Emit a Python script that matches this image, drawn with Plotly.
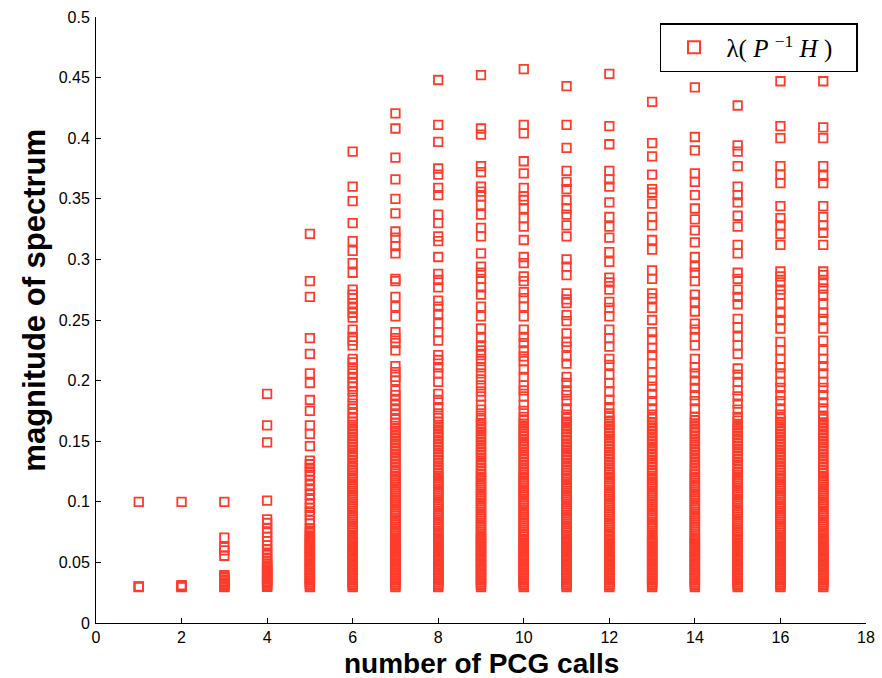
import plotly.graph_objects as go

# x positions (number of PCG calls)
calls = list(range(1, 18))

# low dense eigenvalue cluster shared by columns 5..17
cluster_low = [0.0297, 0.0309, 0.0322, 0.0336, 0.0349, 0.0364, 0.0377, 0.0391, 0.0404, 0.0418,
               0.0433, 0.0445, 0.0459, 0.0474, 0.0486, 0.0501, 0.0514, 0.0528, 0.0543, 0.0555,
               0.0569, 0.0584, 0.0596, 0.0610, 0.0625, 0.0637, 0.0652, 0.0664, 0.0679, 0.0691]

col1 = [0.100, 0.0303, 0.0300, 0.0297]
col2 = [0.100, 0.0312, 0.0306, 0.0300, 0.0297]
col3 = [0.100, 0.0705, 0.0625, 0.0600, 0.0555, 0.0395, 0.0385, 0.0372, 0.0358, 0.0345,
        0.0333, 0.0322, 0.0312, 0.0305, 0.0300, 0.0297]
col4 = [0.189, 0.163, 0.149, 0.101, 0.0855, 0.0825, 0.078, 0.0745, 0.071, 0.0675, 0.064,
        0.061, 0.058, 0.056, 0.053, 0.051, 0.049, 0.0475, 0.0463, 0.0452, 0.0440, 0.0428,
        0.0417, 0.0405, 0.0394, 0.0382, 0.0371, 0.0360, 0.0348, 0.0337, 0.0326, 0.0315,
        0.0306, 0.0298]
col5 = [0.321, 0.282, 0.269, 0.235, 0.222, 0.206, 0.198, 0.184, 0.175, 0.163, 0.156, 0.146,
        0.134, 0.131, 0.128, 0.125, 0.122, 0.118, 0.114, 0.110, 0.106, 0.102, 0.098, 0.095,
        0.092, 0.089, 0.085, 0.082, 0.078, 0.0762, 0.0741, 0.0722, 0.0706]
col6 = [0.389, 0.360, 0.348, 0.330, 0.315, 0.307, 0.297, 0.289, 0.275, 0.271, 0.268, 0.264,
        0.260, 0.256, 0.252, 0.242, 0.236, 0.233, 0.229, 0.218, 0.215, 0.210, 0.206, 0.202,
        0.198, 0.195, 0.191, 0.186, 0.181, 0.177, 0.173, 0.169,
        0.1661, 0.1634, 0.1606, 0.1581, 0.1552, 0.1526, 0.1499, 0.1471, 0.1446, 0.1418,
        0.1391, 0.1366, 0.1338, 0.1312, 0.1285, 0.1259, 0.1236, 0.1217, 0.1199, 0.1181,
        0.1162, 0.1144, 0.1126, 0.1108, 0.1089, 0.1071, 0.1053, 0.1035, 0.1016, 0.0998,
        0.0980, 0.0962, 0.0943, 0.0925, 0.0907, 0.0889, 0.0870, 0.0852, 0.0834, 0.0816,
        0.0797, 0.0779, 0.0761, 0.0743, 0.0724, 0.0706]
col7 = [0.4205, 0.408, 0.384, 0.366, 0.350, 0.338, 0.323, 0.318, 0.311, 0.305, 0.284, 0.282,
        0.269, 0.261, 0.253, 0.240, 0.235, 0.231, 0.225, 0.212, 0.207, 0.203, 0.200, 0.192,
        0.188, 0.184, 0.180, 0.176, 0.172, 0.168,
        0.1654, 0.1627, 0.1601, 0.1573, 0.1547, 0.1519, 0.1493, 0.1466, 0.1438, 0.1412,
        0.1385, 0.1358, 0.1331, 0.1305, 0.1278, 0.1252, 0.1231, 0.1212, 0.1194, 0.1176,
        0.1157, 0.1139, 0.1121, 0.1103, 0.1084, 0.1066, 0.1048, 0.1030, 0.1011, 0.0993,
        0.0975, 0.0957, 0.0938, 0.0920, 0.0902, 0.0884, 0.0865, 0.0847, 0.0829, 0.0811,
        0.0792, 0.0774, 0.0756, 0.0738, 0.0719, 0.0703]
col8 = [0.448, 0.411, 0.397, 0.375, 0.370, 0.359, 0.353, 0.337, 0.330, 0.319, 0.315, 0.302,
        0.288, 0.283, 0.277, 0.266, 0.261, 0.255, 0.247, 0.240, 0.233, 0.221, 0.217, 0.211,
        0.206, 0.199, 0.189, 0.184, 0.178, 0.173, 0.169,
        0.1662, 0.1635, 0.1609, 0.1580, 0.1553, 0.1527, 0.1498, 0.1472, 0.1445, 0.1418,
        0.1392, 0.1364, 0.1337, 0.1311, 0.1283, 0.1257, 0.1234, 0.1215, 0.1197, 0.1178,
        0.1160, 0.1142, 0.1123, 0.1105, 0.1087, 0.1069, 0.1050, 0.1032, 0.1014, 0.0996,
        0.0977, 0.0959, 0.0941, 0.0923, 0.0904, 0.0886, 0.0868, 0.0850, 0.0831, 0.0813,
        0.0795, 0.0777, 0.0758, 0.0740, 0.0722, 0.0704]
col9 = [0.452, 0.408, 0.403, 0.377, 0.372, 0.360, 0.356, 0.352, 0.345, 0.337, 0.326, 0.319,
        0.305, 0.294, 0.289, 0.284, 0.277, 0.271, 0.261, 0.253, 0.243, 0.235, 0.229, 0.225,
        0.221, 0.216, 0.211, 0.206, 0.201, 0.196, 0.191, 0.187, 0.180, 0.176, 0.171,
        0.1676, 0.1648, 0.1622, 0.1595, 0.1567, 0.1541, 0.1514, 0.1487, 0.1460, 0.1433,
        0.1406, 0.1380, 0.1352, 0.1326, 0.1299, 0.1272, 0.1247, 0.1226, 0.1207, 0.1189,
        0.1171, 0.1153, 0.1134, 0.1116, 0.1098, 0.1080, 0.1061, 0.1043, 0.1025, 0.1007,
        0.0988, 0.0970, 0.0952, 0.0934, 0.0915, 0.0897, 0.0879, 0.0861, 0.0842, 0.0824,
        0.0806, 0.0788, 0.0769, 0.0751, 0.0733, 0.0715, 0.0700]
col10 = [0.457, 0.411, 0.404, 0.381, 0.371, 0.359, 0.352, 0.349, 0.342, 0.334, 0.327, 0.316,
         0.302, 0.297, 0.286, 0.282, 0.273, 0.268, 0.261, 0.253, 0.242, 0.236, 0.231, 0.225,
         0.220, 0.216, 0.209, 0.203, 0.196, 0.192, 0.187, 0.180, 0.175, 0.170,
         0.1671, 0.1645, 0.1617, 0.1590, 0.1563, 0.1537, 0.1509, 0.1483, 0.1456, 0.1429,
         0.1402, 0.1375, 0.1349, 0.1321, 0.1295, 0.1268, 0.1243, 0.1223, 0.1205, 0.1187,
         0.1168, 0.1150, 0.1132, 0.1114, 0.1095, 0.1077, 0.1059, 0.1041, 0.1022, 0.1004,
         0.0986, 0.0968, 0.0949, 0.0931, 0.0913, 0.0895, 0.0876, 0.0858, 0.0840, 0.0822,
         0.0803, 0.0785, 0.0767, 0.0749, 0.0730, 0.0712]
col11 = [0.443, 0.411, 0.392, 0.373, 0.364, 0.358, 0.349, 0.342, 0.337, 0.328, 0.319, 0.300,
         0.294, 0.287, 0.272, 0.267, 0.264, 0.254, 0.249, 0.239, 0.232, 0.228, 0.220, 0.214,
         0.203, 0.198, 0.192, 0.188, 0.183, 0.177, 0.172,
         0.1688, 0.1661, 0.1634, 0.1607, 0.1581, 0.1553, 0.1527, 0.1500, 0.1472, 0.1446,
         0.1419, 0.1392, 0.1366, 0.1338, 0.1312, 0.1285, 0.1259, 0.1237, 0.1218, 0.1200,
         0.1182, 0.1163, 0.1145, 0.1127, 0.1109, 0.1090, 0.1072, 0.1054, 0.1036, 0.1017,
         0.0999, 0.0981, 0.0963, 0.0944, 0.0926, 0.0908, 0.0890, 0.0871, 0.0853, 0.0835,
         0.0817, 0.0798, 0.0780, 0.0762, 0.0744, 0.0725, 0.0708]
col12 = [0.453, 0.410, 0.395, 0.373, 0.366, 0.360, 0.347, 0.335, 0.327, 0.318, 0.306, 0.298,
         0.285, 0.281, 0.275, 0.265, 0.260, 0.253, 0.242, 0.235, 0.228, 0.218, 0.213, 0.205,
         0.198, 0.191, 0.184, 0.178, 0.173,
         0.1697, 0.1670, 0.1643, 0.1616, 0.1589, 0.1562, 0.1536, 0.1508, 0.1482, 0.1455,
         0.1428, 0.1401, 0.1374, 0.1348, 0.1320, 0.1294, 0.1267, 0.1244, 0.1224, 0.1206,
         0.1188, 0.1169, 0.1151, 0.1133, 0.1115, 0.1096, 0.1078, 0.1060, 0.1042, 0.1023,
         0.1005, 0.0987, 0.0969, 0.0950, 0.0932, 0.0914, 0.0896, 0.0877, 0.0859, 0.0841,
         0.0823, 0.0804, 0.0786, 0.0768, 0.0750, 0.0731, 0.0713]
col13 = [0.430, 0.396, 0.385, 0.370, 0.358, 0.355, 0.346, 0.335, 0.328, 0.316, 0.308, 0.291,
         0.284, 0.272, 0.268, 0.260, 0.250, 0.240, 0.234, 0.227, 0.221, 0.214, 0.207, 0.200,
         0.195, 0.189, 0.183, 0.177, 0.172,
         0.1684, 0.1657, 0.1631, 0.1603, 0.1577, 0.1550, 0.1523, 0.1496, 0.1469, 0.1442,
         0.1416, 0.1389, 0.1362, 0.1335, 0.1308, 0.1282, 0.1256, 0.1234, 0.1216, 0.1197,
         0.1179, 0.1161, 0.1143, 0.1124, 0.1106, 0.1088, 0.1070, 0.1051, 0.1033, 0.1015,
         0.0997, 0.0978, 0.0960, 0.0942, 0.0924, 0.0905, 0.0887, 0.0869, 0.0851, 0.0832,
         0.0814, 0.0796, 0.0778, 0.0759, 0.0741, 0.0723, 0.0705]
col14 = [0.442, 0.401, 0.390, 0.371, 0.364, 0.353, 0.342, 0.333, 0.324, 0.314, 0.302, 0.294,
         0.289, 0.282, 0.271, 0.265, 0.257, 0.247, 0.242, 0.236, 0.229, 0.218, 0.211, 0.206,
         0.200, 0.194, 0.188, 0.183, 0.177, 0.170,
         0.1673, 0.1646, 0.1619, 0.1592, 0.1566, 0.1539, 0.1511, 0.1485, 0.1458, 0.1431,
         0.1404, 0.1378, 0.1351, 0.1323, 0.1297, 0.1270, 0.1246, 0.1227, 0.1208, 0.1190,
         0.1172, 0.1154, 0.1135, 0.1117, 0.1099, 0.1081, 0.1062, 0.1044, 0.1026, 0.1008,
         0.0989, 0.0971, 0.0953, 0.0935, 0.0916, 0.0898, 0.0880, 0.0862, 0.0843, 0.0825,
         0.0807, 0.0789, 0.0770, 0.0752, 0.0734, 0.0716, 0.0701]
col15 = [0.427, 0.394, 0.389, 0.377, 0.360, 0.353, 0.347, 0.336, 0.327, 0.312, 0.305, 0.289,
         0.284, 0.275, 0.269, 0.263, 0.251, 0.244, 0.236, 0.229, 0.222, 0.210, 0.205, 0.199,
         0.192, 0.187, 0.181, 0.176, 0.170,
         0.1669, 0.1642, 0.1615, 0.1588, 0.1561, 0.1534, 0.1507, 0.1481, 0.1454, 0.1427,
         0.1400, 0.1373, 0.1346, 0.1319, 0.1293, 0.1266, 0.1241, 0.1222, 0.1204, 0.1186,
         0.1167, 0.1149, 0.1131, 0.1113, 0.1094, 0.1076, 0.1058, 0.1040, 0.1021, 0.1003,
         0.0985, 0.0967, 0.0948, 0.0930, 0.0912, 0.0894, 0.0875, 0.0857, 0.0839, 0.0821,
         0.0802, 0.0784, 0.0766, 0.0748, 0.0729, 0.0711]
col16 = [0.447, 0.410, 0.400, 0.377, 0.370, 0.363, 0.344, 0.334, 0.328, 0.321, 0.312, 0.290,
         0.286, 0.281, 0.275, 0.271, 0.264, 0.256, 0.250, 0.243, 0.232, 0.225, 0.218, 0.211,
         0.206, 0.199, 0.194, 0.188, 0.183, 0.177, 0.172,
         0.1687, 0.1660, 0.1633, 0.1606, 0.1579, 0.1553, 0.1525, 0.1498, 0.1472, 0.1445,
         0.1418, 0.1391, 0.1364, 0.1338, 0.1311, 0.1284, 0.1258, 0.1236, 0.1217, 0.1199,
         0.1181, 0.1163, 0.1144, 0.1126, 0.1108, 0.1090, 0.1071, 0.1053, 0.1035, 0.1017,
         0.0998, 0.0980, 0.0962, 0.0944, 0.0925, 0.0907, 0.0889, 0.0871, 0.0852, 0.0834,
         0.0816, 0.0798, 0.0779, 0.0761, 0.0743, 0.0725, 0.0707]
col17 = [0.447, 0.409, 0.400, 0.377, 0.369, 0.363, 0.344, 0.335, 0.328, 0.322, 0.312, 0.290,
         0.287, 0.281, 0.276, 0.271, 0.263, 0.256, 0.251, 0.243, 0.233, 0.225, 0.218, 0.212,
         0.206, 0.199, 0.194, 0.188, 0.182, 0.177, 0.171,
         0.1683, 0.1656, 0.1629, 0.1602, 0.1575, 0.1549, 0.1521, 0.1495, 0.1468, 0.1441,
         0.1414, 0.1387, 0.1361, 0.1334, 0.1307, 0.1280, 0.1255, 0.1233, 0.1214, 0.1196,
         0.1178, 0.1160, 0.1141, 0.1123, 0.1105, 0.1087, 0.1068, 0.1050, 0.1032, 0.1014,
         0.0995, 0.0977, 0.0959, 0.0941, 0.0922, 0.0904, 0.0886, 0.0868, 0.0849, 0.0831,
         0.0813, 0.0795, 0.0776, 0.0758, 0.0740, 0.0722, 0.0704]

columns = [col1, col2, col3, col4, col5, col6, col7, col8, col9, col10,
           col11, col12, col13, col14, col15, col16, col17]

x_ticks = [0, 2, 4, 6, 8, 10, 12, 14, 16, 18]
x_ticktext = ["0", "2", "4", "6", "8", "10", "12", "14", "16", "18"]
y_ticks = [0, 0.05, 0.1, 0.15, 0.2, 0.25, 0.3, 0.35, 0.4, 0.45, 0.5]
y_ticktext = ["0", "0.05", "0.1", "0.15", "0.2", "0.25", "0.3", "0.35", "0.4", "0.45", "0.5"]

xs, ys = [], []
for k, vals in zip(calls, columns):
    full = list(vals) + (cluster_low if k >= 5 else [])
    xs.extend([k] * len(full))
    ys.extend(full)

RED = "rgb(255,60,42)"

fig = go.Figure()
fig.add_trace(go.Scatter(
    x=xs, y=ys, mode="markers",
    name="λ(&nbsp;<i>P</i>&nbsp;<sup>−1</sup>&nbsp;<i>H</i>&nbsp;)&nbsp;&nbsp;&nbsp;",
    marker=dict(symbol="square-open", size=8.5, color=RED,
                line=dict(width=1.8, color=RED)),
))

axis_common = dict(
    showgrid=False, zeroline=False, showline=True, linecolor="black", linewidth=1,
    ticks="inside", ticklen=5, tickcolor="black", tickwidth=1,
    tickfont=dict(family="Liberation Sans, Arial, sans-serif", size=16, color="black"),
    mirror=False, automargin=False,
)

fig.update_layout(
    width=882, height=678,
    margin=dict(l=96, r=16, t=17, b=55, autoexpand=False),
    paper_bgcolor="white", plot_bgcolor="white",
    showlegend=True,
    legend=dict(
        x=0.9896, y=0.990, xanchor="right", yanchor="top",
        bgcolor="white", bordercolor="black", borderwidth=1.5,
        font=dict(family="Liberation Serif, DejaVu Serif, serif", size=25, color="black"),
        itemsizing="constant", itemwidth=55,
    ),
    xaxis=dict(range=[0, 18], tickvals=x_ticks, ticktext=x_ticktext, **axis_common),
    yaxis=dict(range=[0, 0.5], tickvals=y_ticks, ticktext=y_ticktext,
               ticklabelstandoff=2, **axis_common),
    annotations=[
        dict(text="<b>number of PCG calls</b>", xref="paper", yref="paper",
             x=0.5, y=-0.067, xanchor="center", yanchor="middle", showarrow=False,
             font=dict(family="Liberation Sans, Arial, sans-serif", size=28, color="black")),
        dict(text="<b>magnitude of spectrum</b>", xref="paper", yref="paper",
             x=-0.081, y=0.533, xanchor="center", yanchor="middle", textangle=-90,
             showarrow=False,
             font=dict(family="Liberation Sans, Arial, sans-serif", size=31, color="black")),
    ],
)

fig.write_html("out.html", config={"displayModeBar": False},
               post_script="document.body.style.margin='0';document.body.style.padding='0';")
